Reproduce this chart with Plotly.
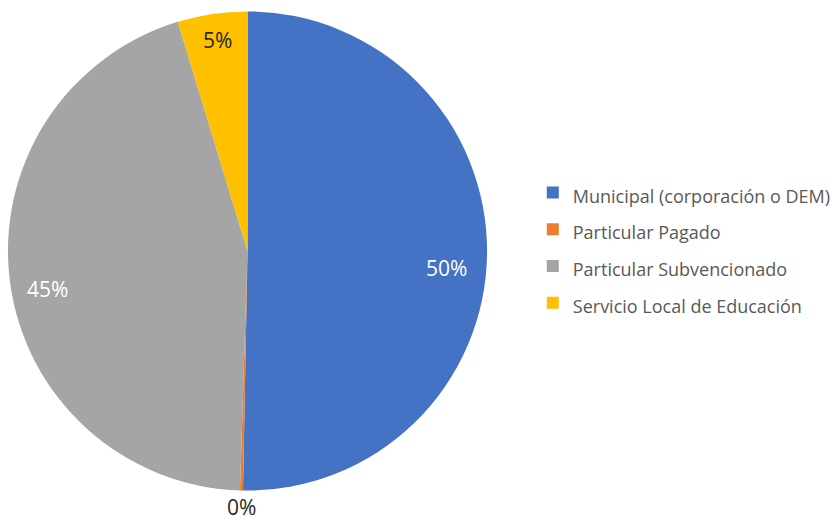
import math
import plotly.graph_objects as go

categories = ["Municipal (corporación o DEM)", "Particular Pagado",
              "Particular Subvencionado", "Servicio Local de Educación"]
values = [50.3, 0.2, 44.8, 4.7]
colors = ["#4472C4", "#ED7D31", "#A5A5A5", "#FFC000"]
label_colors = ["white", "#262626", "white", "#262626"]
label_radius = [0.84, 1.07, 0.856, 0.89]
label_angle_offset = [4.4, 0.0, -3.1, 0.4]

W, H = 836, 521
dom_x = [8 / W, 490 / W]
dom_y = [(H - 492) / H, (H - 10) / H]

fig = go.Figure(go.Pie(
    labels=[f"<span style='font-size:18px'>{c}</span>" for c in categories],
    values=values,
    sort=False,
    direction="clockwise",
    rotation=0,
    marker=dict(colors=colors, line=dict(width=0)),
    textinfo="none",
    hoverinfo="label+percent",
    domain=dict(x=dom_x, y=dom_y),
))

# percentage labels placed near each slice's mid angle
total = sum(values)
cx = (dom_x[0] + dom_x[1]) / 2
cy = (dom_y[0] + dom_y[1]) / 2
rpx = 239
cum = 0
for v, col, rf, off in zip(values, label_colors, label_radius, label_angle_offset):
    mid = (cum + v / 2) / total * 2 * math.pi + math.radians(off)
    cum += v
    dxp = math.sin(mid) * rpx * rf
    dyp = math.cos(mid) * rpx * rf
    fig.add_annotation(
        x=cx + dxp / W, y=cy + dyp / H, xref="paper", yref="paper",
        xanchor="center", yanchor="middle",
        text=f"{round(v / total * 100)}%", showarrow=False,
        font=dict(size=21, color=col, family="Open Sans"),
    )

fig.update_layout(
    width=W, height=H,
    margin=dict(l=0, r=0, t=0, b=0),
    paper_bgcolor="white",
    font=dict(family="Open Sans", color="#595959"),
    showlegend=True,
    legend=dict(
        x=536 / W, y=1 - 248 / H, xanchor="left", yanchor="middle",
        font=dict(size=26, color="#595959", family="Open Sans"),
        bgcolor="rgba(0,0,0,0)",
    ),
)

fig.write_html("out.html", config={"displayModeBar": False},
               post_script="document.body.style.margin='0';")
